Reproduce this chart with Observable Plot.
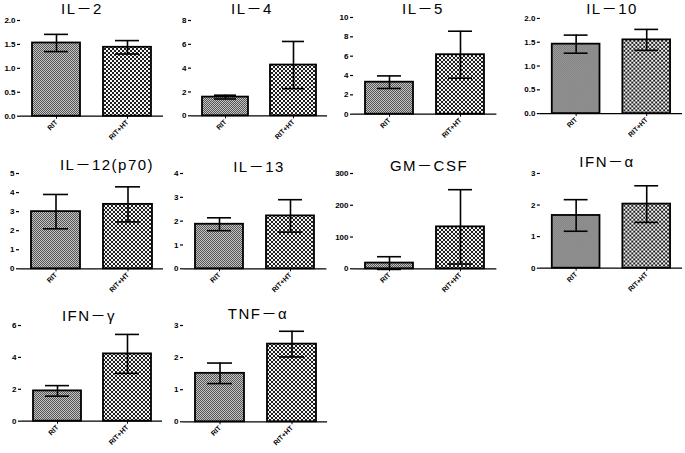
<!DOCTYPE html>
<html>
<head>
<meta charset="utf-8">
<script src="https://cdn.jsdelivr.net/npm/d3@7"></script>
<script src="https://cdn.jsdelivr.net/npm/@observablehq/plot@0.6"></script>
<style>
  html, body { margin: 0; padding: 0; background: #fff; }
  #wrap { position: relative; width: 685px; height: 453px; overflow: hidden; background: #fff; }
  .panel { position: absolute; }
  .panel svg { overflow: visible; }
  #titles { position: absolute; left: 0; top: 0; pointer-events: none; }
</style>
</head>
<body>
<svg width="0" height="0" style="position:absolute">
  <defs>
    <pattern id="patRIT" width="2" height="2" patternUnits="userSpaceOnUse">
      <rect width="2" height="2" fill="#c4c4c4"/>
      <rect x="0" y="0" width="1" height="1" fill="#555"/>
      <rect x="1" y="1" width="1" height="1" fill="#555"/>
    </pattern>
    <pattern id="patHT" width="4" height="4" patternUnits="userSpaceOnUse">
      <rect width="4" height="4" fill="#f6f6f6"/>
      <rect x="0" y="0" width="2" height="2" fill="#1e1e1e"/>
      <rect x="2" y="2" width="2" height="2" fill="#1e1e1e"/>
    </pattern>
  </defs>
</svg>
<div id="wrap"></div>
<script>
// ---- data ----
const titles = ["IL－2", "IL－4", "IL－5", "IL－10", "IL－12(p70)", "IL－13", "GM－CSF", "IFN－α", "IFN－γ", "TNF－α"];
const groups = ["RIT", "RIT+HT"];
const ritMean = [1.53, 1.57, 3.31, 1.46, 3.0, 1.87, 18, 1.67, 1.9, 1.51];
const ritErr  = [0.18, 0.16, 0.65, 0.19, 0.9, 0.27, 20, 0.5, 0.33, 0.32];
const htMean  = [1.44, 4.26, 6.15, 1.55, 3.38, 2.22, 132, 2.03, 4.22, 2.42];
const htErr   = [0.14, 1.98, 2.43, 0.22, 0.92, 0.68, 117, 0.58, 1.22, 0.40];
const yMax    = [2, 8, 10, 2, 5, 4, 300, 3, 6, 3];
const yStep   = [0.5, 2, 2, 0.5, 1, 1, 100, 1, 2, 1];
const yDecimals = [1, 0, 0, 1, 0, 0, 0, 0, 0, 0];

// ---- layout (pixel positions of each panel's frame) ----
const axisX = [20, 190.7, 353.3, 540, 19, 183.3, 353.3, 540, 20.7, 182.7];
const endX  = [163, 326.7, 496.7, 683, 163, 326.7, 496.7, 683, 161.7, 326.7];
const topY  = [20, 20, 17.3, 18.3, 173, 172.7, 172.7, 172.7, 325, 325];
const zeroY = [115.7, 115.3, 114, 114, 268.3, 268, 268, 268, 420.7, 421.3];
const titleX = [82, 252, 423, 612, 107, 259, 429, 607, 89, 258];
const titleBase = [14, 14, 14, 14, 170, 171.5, 171, 167, 320.5, 318.5];

const patterns = {"RIT": "url(#patRIT)", "RIT+HT": "url(#patHT)"};
const wrap = document.getElementById("wrap");

titles.forEach((t, i) => {
  const data = groups.map((g, j) => ({
    group: g,
    mean: j ? htMean[i] : ritMean[i],
    err: j ? htErr[i] : ritErr[i]
  }));
  const mL = 26, mR = 3, mT = 6, mB = 34;
  const w = endX[i] - axisX[i] + mL + mR;
  const h = zeroY[i] - topY[i] + mT + mB;
  const ticks = d3.range(0, yMax[i] + yStep[i] / 2, yStep[i]);
  const fmt = d3.format("." + yDecimals[i] + "f");
  const chart = Plot.plot({
    width: w, height: h,
    marginLeft: mL, marginRight: mR, marginTop: mT, marginBottom: mB,
    style: {fontFamily: "'Liberation Sans', Arial, sans-serif", fontWeight: "bold", background: "transparent", color: "black"},
    x: {domain: groups, paddingInner: 0.32, paddingOuter: 0.16, label: null},
    y: {domain: [0, yMax[i]], label: null},
    color: {type: "identity"},
    marks: [
      Plot.barY(data, {x: "group", y: "mean", fill: d => patterns[d.group], stroke: "black", strokeWidth: 1.8}),
      Plot.ruleX(data, {x: "group", y1: d => d.mean - d.err, y2: d => d.mean + d.err, stroke: "black", strokeWidth: 1.6}),
      Plot.tickY(data, {x: "group", y: d => d.mean + d.err, insetLeft: 12, insetRight: 12, stroke: "black", strokeWidth: 1.6}),
      Plot.tickY(data, {x: "group", y: d => d.mean - d.err, insetLeft: 12, insetRight: 12, stroke: "black", strokeWidth: 1.6}),
      Plot.ruleY([0], {stroke: "black", strokeWidth: 1.2}),
      Plot.axisY({ticks, tickFormat: fmt, tickSize: 3, tickPadding: 2, fontSize: 8, line: true, label: null, strokeWidth: 1.2}),
      Plot.axisX({tickRotate: -45, tickSize: 3, tickPadding: 2, fontSize: 7, label: null})
    ]
  });
  const div = document.createElement("div");
  div.className = "panel";
  div.style.left = (axisX[i] - mL) + "px";
  div.style.top = (topY[i] - mT) + "px";
  div.appendChild(chart);
  wrap.appendChild(div);
});

// titles overlay
const svg = d3.select(wrap).append("svg")
  .attr("id", "titles").attr("width", 685).attr("height", 453);
svg.selectAll("text").data(titles).join("text")
  .attr("x", (d, i) => titleX[i])
  .attr("y", (d, i) => titleBase[i])
  .attr("text-anchor", "middle")
  .style("font-family", "'Liberation Sans', 'Noto Sans CJK JP', sans-serif")
  .style("font-size", "15px")
  .style("letter-spacing", "1.5px")
  .text(d => d);
</script>
</body>
</html>
